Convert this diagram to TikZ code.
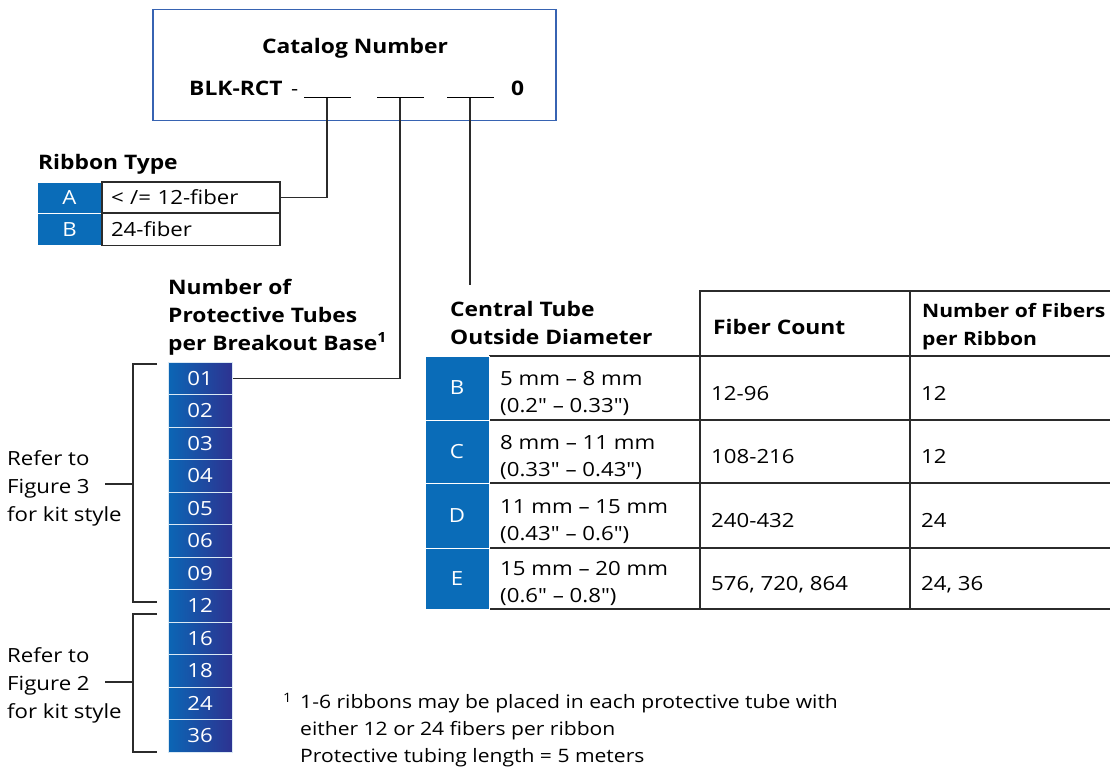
\documentclass[tikz,border=0pt]{standalone}
\usepackage{fontspec}
\setmainfont{Open Sans}[FakeStretch=1.14, Ligatures=TeXOff]
\usetikzlibrary{positioning}

\definecolor{cellblue}{HTML}{0A6CB8}
\definecolor{tubeleft}{HTML}{0B66B5}
\definecolor{tuberight}{HTML}{2D3391}
\definecolor{boxblue}{HTML}{3763B2}
\definecolor{linegray}{HTML}{2B2B2B}

\tikzset{
    txt/.style={font=\fontsize{19.5}{28}\selectfont, inner sep=0pt},
    dim/.style={font=\fontsize{19.5}{27}\selectfont, inner sep=0pt, align=left},
    head/.style={font=\fontsize{20}{28}\selectfont\bfseries, inner sep=0pt},
    note/.style={font=\fontsize{18.5}{27}\selectfont, inner sep=0pt},
    catbox/.style={draw=boxblue, line width=1.2pt, minimum width=403pt, minimum height=111pt},
    slot/.style={fill=black, inner sep=0pt, minimum width=47pt, minimum height=1.3pt},
    bluecell/.style={fill=cellblue, draw=white, line width=1pt, text=white,
        font=\fontsize{19.5}{23}\selectfont, inner sep=0pt},
    tube/.style={left color=tubeleft, right color=tuberight, draw=white!85!cellblue,
        line width=1pt, text=white, font=\fontsize{19.5}{23}\selectfont,
        minimum width=64pt, minimum height=32.5pt, inner sep=0pt},
    whitecell/.style={draw=linegray, line width=1.2pt, text width=160pt, inner xsep=9pt,
        minimum height=31pt, align=left, font=\fontsize{19.5}{23}\selectfont},
    conn/.style={draw=linegray, line width=1.4pt},
    grid/.style={draw=linegray, line width=1.4pt},
}

\begin{document}
\begin{tikzpicture}[x=1pt,y=-1pt]
    \useasboundingbox (0,0) rectangle (1110,769);

    % catalog number
    \node[catbox] (catalog) at (354.5,65) {};
    \node[head,anchor=base] (cattitle) at (355,53) {Catalog Number};
    \node[head,anchor=base west] (prefix) at (189,95) {BLK-RCT};
    \node[txt,anchor=base west] (dash) at (291,95) {-};
    \node[slot] (slotA) at (327,97.5) {};
    \node[slot] (slotB) at (400,97.5) {};
    \node[slot] (slotC) at (470,97.5) {};
    \node[head,anchor=base west] (suffix) at (511,95) {0};

    % ribbon type
    \node[head,anchor=base west] (ribhead) at (38,169) {Ribbon Type};
    \node[bluecell,minimum width=65pt,minimum height=31pt] (ribA) at (69.5,197.5) {A};
    \node[bluecell,minimum width=65pt,minimum height=32pt] (ribB) at (69.5,229.5) {B};
    \node[whitecell] (optA) at (191,197.5) {< /= 12-fiber};
    \node[whitecell,minimum height=32pt] (optB) at (191,229.5) {24-fiber};

    % protective tubes
    \node[head,anchor=base west,align=left] (tubehead) at (168,350)
        {Number of\\Protective Tubes\\per Breakout Base\textsuperscript{1}};
    \foreach \n [count=\i from 0] in {01,02,03,04,05,06,09,12,16,18,24,36}
        \node[tube] (t\n) at (200,378.25+32.5*\i) {\n};

    % kit style brackets
    \node[txt,anchor=base west,align=left] (referA) at (7,521) {Refer to\\Figure 3\\for kit style};
    \node[txt,anchor=base west,align=left] (referB) at (7,718) {Refer to\\Figure 2\\for kit style};
    \coordinate (brAtop) at (157,364);
    \coordinate (brAmid) at (133,484);
    \coordinate (brAbot) at (157,602);
    \coordinate (tickA) at (105,484);
    \coordinate (brBtop) at (157,614);
    \coordinate (brBmid) at (133,682);
    \coordinate (brBbot) at (157,752);
    \coordinate (tickB) at (105,682);
    \draw[conn] (brAtop) -| (brAmid) |- (brAbot);
    \draw[conn] (tickA) -- (brAmid);
    \draw[conn] (brBtop) -| (brBmid) |- (brBbot);
    \draw[conn] (tickB) -- (brBmid);

    % central tube table
    \node[head,anchor=base west,align=left] (cthead) at (450,344) {Central Tube\\Outside Diameter};
    \node[head,anchor=base west] (fchead) at (713,334) {Fiber Count};
    \node[head,anchor=base west,align=left,font=\fontsize{18.5}{28}\selectfont\bfseries]
        (nfhead) at (922,345) {Number of Fibers\\per Ribbon};
    \coordinate (ctend) at (470,285);
    \draw[grid] (700,609) -- (700,291) -- (1110,291);
    \draw[grid] (910,291) -- (910,609);
    \foreach \y in {356,420,483,548,609}
        \draw[grid] (489,\y) -- (1110,\y);

    \node[bluecell,minimum width=64pt,minimum height=64pt] (odB) at (457,388) {B};
    \node[bluecell,minimum width=64pt,minimum height=63pt] (odC) at (457,451.5) {C};
    \node[bluecell,minimum width=64pt,minimum height=65pt] (odD) at (457,515.5) {D};
    \node[bluecell,minimum width=64pt,minimum height=61pt] (odE) at (457,578.5) {E};

    \node[dim,anchor=base west] (dimB) at (500,412) {5 mm – 8 mm\\(0.2" – 0.33")};
    \node[dim,anchor=base west] (dimC) at (500,476) {8 mm – 11 mm\\(0.33" – 0.43")};
    \node[dim,anchor=base west] (dimD) at (500,540) {11 mm – 15 mm\\(0.43" – 0.6")};
    \node[dim,anchor=base west] (dimE) at (500,602) {15 mm – 20 mm\\(0.6" – 0.8")};

    \node[txt,anchor=base west] (cntB) at (711,400) {12-96};
    \node[txt,anchor=base west] (cntC) at (711,463.5) {108-216};
    \node[txt,anchor=base west] (cntD) at (711,527.5) {240-432};
    \node[txt,anchor=base west] (cntE) at (711,590.5) {576, 720, 864};

    \node[txt,anchor=base west] (perB) at (921,400) {12};
    \node[txt,anchor=base west] (perC) at (921,463.5) {12};
    \node[txt,anchor=base west] (perD) at (921,527.5) {24};
    \node[txt,anchor=base west] (perE) at (921,590.5) {24, 36};

    % connectors
    \draw[conn] (slotA.south) |- (optA.east);
    \draw[conn] (slotB.south) |- (t01.east);
    \draw[conn] (slotC.south) -- (ctend);

    % footnote
    \node[note,anchor=base west] (footmark) at (283,709) {\textsuperscript{1}};
    \node[note,anchor=base west,align=left] (foot) at (300,762)
        {1-6 ribbons may be placed in each protective tube with\\either 12 or 24 fibers per ribbon\\Protective tubing length = 5 meters};
\end{tikzpicture}
\end{document}
